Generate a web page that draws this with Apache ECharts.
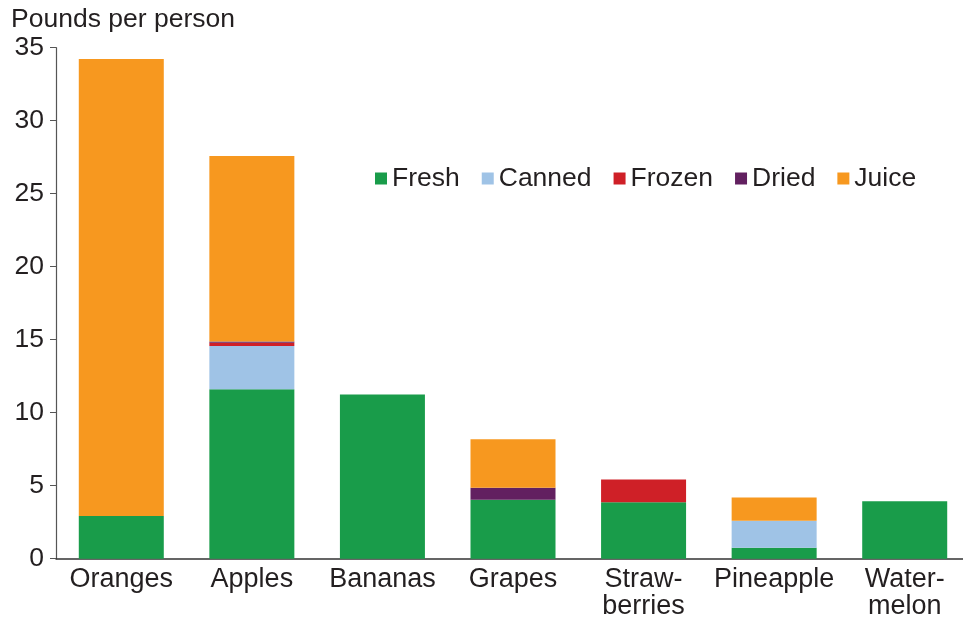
<!DOCTYPE html>
<html>
<head>
<meta charset="utf-8">
<script src="https://cdn.jsdelivr.net/npm/echarts@6/dist/echarts.min.js"></script>
<style>html,body{margin:0;padding:0;background:#fff}#c{width:963px;height:617px}</style>
</head>
<body>
<div id="c"></div>
<script>
const categories = ['Oranges', 'Apples', 'Bananas', 'Grapes', 'Straw-\nberries', 'Pineapple', 'Water-\nmelon'];
const fresh  = [2.92, 11.6, 11.25, 4.04, 3.86, 0.75, 3.93];
const canned = [0, 2.97, 0, 0, 0, 1.85, 0];
const frozen = [0, 0.22, 0, 0, 1.57, 0, 0];
const dried  = [0, 0.08, 0, 0.82, 0, 0, 0];
const juice  = [31.3, 12.72, 0, 3.33, 0, 1.6, 0];
const yTicks = [0, 5, 10, 15, 20, 25, 30, 35];
const seriesNames = ['Fresh', 'Canned', 'Frozen', 'Dried', 'Juice'];
const colors = ['#199c4a', '#9fc3e6', '#cf2027', '#622060', '#f7981f'];

const font = 'Liberation Sans, Arial, Helvetica, sans-serif';
const txt = '#231f20';
const chart = echarts.init(document.getElementById('c'));
const values = [fresh, canned, frozen, dried, juice];
chart.setOption({
  animation: false,
  title: {
    text: 'Pounds per person', left: 11, top: 6, padding: 0,
    textStyle: { fontFamily: font, fontSize: 26.5, fontWeight: 'normal', color: txt }
  },
  legend: {
    data: seriesNames, left: 370, top: 159.5,
    itemWidth: 12, itemHeight: 12, itemGap: 22, icon: 'rect',
    textStyle: { fontFamily: font, fontSize: 26.5, color: txt, lineHeight: 28 }
  },
  grid: { left: 56, width: 914, top: 47.7, bottom: 58.3, containLabel: false, outerBoundsMode: 'none' },
  xAxis: {
    type: 'category', data: categories,
    axisLine: { lineStyle: { color: '#333', width: 1.5 } },
    axisTick: { show: false },
    axisLabel: { interval: 0, fontFamily: font, fontSize: 27, color: txt, lineHeight: 27, margin: 7 }
  },
  yAxis: {
    type: 'value', min: yTicks[0], max: yTicks[yTicks.length - 1], interval: 5,
    splitLine: { show: false },
    axisLine: { show: true, lineStyle: { color: '#555', width: 1.2 } },
    axisTick: { show: true, length: 6, lineStyle: { color: '#555' } },
    axisLabel: { fontFamily: font, fontSize: 26.5, color: txt, margin: 12 }
  },
  series: seriesNames.map((n, i) => ({
    name: n, type: 'bar', stack: 'total', barWidth: 85,
    data: values[i],
    itemStyle: { color: colors[i] }
  }))
});
</script>
</body>
</html>
